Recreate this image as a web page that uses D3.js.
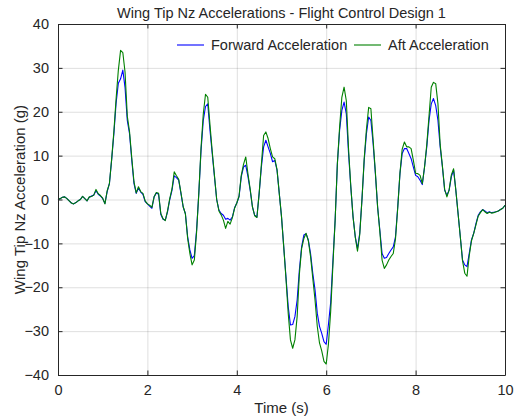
<!DOCTYPE html>
<html>
<head>
    <meta charset="utf-8" />
    <title>Wing Tip Nz</title>
    <script src="https://cdn.jsdelivr.net/npm/d3@7"></script>
    <style>
        body { margin: 0; background: #fff; }
        text { font-family: "Liberation Sans", Arial, Helvetica, sans-serif; fill: #262626; }
        .grid line { stroke: #262626; stroke-opacity: 0.15; }
        .grid path { display: none; }
    </style>
</head>
<body>
    <svg width="516" height="420" id="svgNz"></svg>

    <script>
        // sample step of the recorded signals (s)
        var dt = 0.05;

        // forward (blue) accelerometer, g, one value every dt from 0 to 10 s
        var fwdAccel = [
            0, 0.2, 0.5, 0.6, 0.2, -0.3, -0.8, -1.0, -0.7, -0.3,
            0.0, 0.7, 0.2, -0.3, 0.5, 0.8, 1.0, 2.0, 1.2, 0.8,
            0.2, -0.9, 1.8, 3.6, 9, 15, 22, 26.5, 27.5, 29.5,
            25.5, 18, 15, 9, 3.6, 1.4, 2.6, 1.7, 1.2, -0.5,
            -1.0, -1.5, -2.0, 0.6, 1.5, 1.2, -3.4, -4.5, -4.7, -2.8,
            0, 2.1, 5.4, 5.0, 4.4, 1.4, -1.7, -3.2, -8.5, -11.5,
            -13.4, -12.8, -7, 1.4, 11.2, 18, 21.2, 21.8, 15.8, 10.5,
            5.2, 0, -2.4, -3.2, -3.6, -4.5, -4.3, -4.7, -4.0, -1.9,
            -0.8, 0.6, 5.2, 7.4, 7.8, 5.2, 2.1, -1.7, -3.6, -4.0,
            1.4, 7.4, 12, 13.5, 12, 10.5, 8.6, 8.9, 6.7, 1.4,
            -3.9, -10.8, -17.6, -24.4, -28.6, -28.5, -26.7, -22.9, -16, -10.8,
            -8.1, -7.8, -9.2, -12.3, -16.8, -20.6, -25.9, -28.9, -30.5, -32.4,
            -33, -28.5, -23.5, -14, -4.7, 8.2, 15.8, 20.3, 22.2, 19.5,
            10.5, 2.9, -3.9, -8.5, -11.2, -7.7, 0, 8.9, 15, 18.8,
            18, 12.7, 5.9, -1.7, -7, -12.3, -13.4, -13.2, -12.3, -11.5,
            -10.8, -8.5, -1.7, 5.9, 10.5, 11.6, 11.6, 10.5, 9.3, 7.4,
            5.5, 5.2, 4.4, 3.4, 7.4, 12, 18, 21.8, 23, 21.4,
            18, 12, 7.4, 2.1, 1.0, 2.1, 5.2, 6.7, 2.1, -3.2,
            -8.5, -13.8, -14.9, -15.3, -12.3, -9.2, -7.7, -5.5, -3.6, -2.8,
            -2.3, -2.6, -3.0, -2.8, -3.0, -2.9, -2.8, -2.6, -2.3, -2.0,
            -1.3
        ];

        // aft (green) accelerometer, g, same sampling
        var aftAccel = [
            0, 0.2, 0.5, 0.6, 0.2, -0.3, -0.8, -1.0, -0.7, -0.3,
            0.0, 0.7, 0.2, -0.3, 0.6, 0.7, 1.0, 2.3, 1.3, 0.9,
            0.3, -1.0, 2.0, 3.6, 9.2, 15.5, 23, 29.5, 34, 33.5,
            29, 19, 15.5, 9.5, 4, 1.5, 2.9, 1.8, 1.4, -0.3,
            -1.0, -1.3, -1.8, 0.6, 1.6, 1.4, -3.2, -4.4, -4.8, -2.6,
            0.2, 2.4, 6.3, 5.4, 4.6, 1.6, -1.6, -3.3, -8.8, -12.3,
            -14.9, -13.8, -7.5, 1.4, 11.8, 19.5, 24, 23.3, 17, 11,
            5.5, 0, -2.6, -3.5, -4.7, -6.6, -5.0, -5.6, -4.2, -2.0,
            -0.8, 0.8, 5.5, 8, 9.7, 5.8, 2.3, -1.7, -3.7, -4.1,
            1.4, 8.0, 14.6, 15.4, 13.9, 11.6, 9.7, 9.3, 6.8, 1.4,
            -3.9, -10.8, -18, -25.9, -32, -33.9, -32, -26.7, -17, -11.2,
            -8.9, -7.7, -9.4, -13, -18, -22.9, -28.9, -32.7, -34.5, -36.9,
            -37.5, -33, -25.5, -15, -4.7, 8.2, 16.5, 23.3, 25.6, 22.5,
            11.5, 3.0, -3.9, -8.5, -11.8, -8.0, 0, 9.3, 16, 21,
            20.7, 13.5, 6.2, -1.7, -7.3, -13.8, -15.7, -14.9, -13.8, -13,
            -12.3, -9, -2, 6, 11.5, 13.1, 12.0, 12, 11.6, 8.9,
            6, 5.9, 5.5, 3.6, 7.4, 12.5, 19, 25.6, 26.7, 26.4,
            21.8, 12.5, 7.6, 2.3, 0.6, 2.2, 5.6, 7.0, 2.1, -3.2,
            -8.5, -14, -16.8, -17.5, -12.8, -9.4, -7.7, -5.8, -3.8, -3.0,
            -2.3, -2.8, -3.2, -2.9, -3.1, -3.0, -2.8, -2.6, -2.3, -2.0,
            -1.3
        ];

        var xTicks = [0, 2, 4, 6, 8, 10];
        var yTicks = [-40, -30, -20, -10, 0, 10, 20, 30, 40];
        var seriesNames = ["Forward Acceleration", "Aft Acceleration"];
        var seriesColors = ["#0000ff", "#008000"];

        //init the svg
        var svg = d3.select("#svgNz"),
            margin = {top: 24, right: 11, bottom: 45, left: 58},
            width = +svg.attr("width") - margin.left - margin.right,
            height = +svg.attr("height") - margin.top - margin.bottom;

        var x = d3.scaleLinear().domain([0, 10]).range([0, width]),
            y = d3.scaleLinear().domain([-40, 40]).range([height, 0]);

        var g = svg.append("g")
            .attr("transform", "translate(" + margin.left + "," + margin.top + ")");

        // grid
        g.append("g").attr("class", "grid")
            .attr("transform", "translate(0," + height + ")")
            .call(d3.axisBottom(x).tickValues(xTicks).tickSize(-height).tickFormat(""));
        g.append("g").attr("class", "grid")
            .call(d3.axisLeft(y).tickValues(yTicks).tickSize(-width).tickFormat(""));

        // lines
        var data = [fwdAccel, aftAccel];
        var line = d3.line()
            .x(function(d, i) { return x(i * dt); })
            .y(function(d) { return y(d); });

        g.selectAll(".series")
            .data(data)
            .enter().append("path")
            .attr("class", "series")
            .attr("fill", "none")
            .attr("stroke", function(d, i) { return seriesColors[i]; })
            .attr("stroke-width", 1.1)
            .attr("stroke-linejoin", "round")
            .attr("d", line);

        // axes, ticks pointing in, box on
        function styleAxis(sel) {
            sel.selectAll("path").attr("stroke", "#262626");
            sel.selectAll("line").attr("stroke", "#262626");
            sel.selectAll("text").attr("font-size", "14.5px").attr("fill", "#262626");
        }
        g.append("g")
            .attr("transform", "translate(0," + height + ")")
            .call(d3.axisBottom(x).tickValues(xTicks).tickSize(-4.5).tickSizeOuter(0).tickPadding(10))
            .call(styleAxis);
        g.append("g")
            .call(d3.axisLeft(y).tickValues(yTicks).tickSize(-4.5).tickSizeOuter(0).tickPadding(9))
            .call(styleAxis);
        g.append("g")
            .call(d3.axisTop(x).tickValues(xTicks).tickSize(-4.5).tickSizeOuter(0).tickFormat(""))
            .call(styleAxis);
        g.append("g")
            .attr("transform", "translate(" + width + ",0)")
            .call(d3.axisRight(y).tickValues(yTicks).tickSize(-4.5).tickSizeOuter(0).tickFormat(""))
            .call(styleAxis);
        g.selectAll(".domain").attr("stroke-width", 1);

        // titles
        svg.append("text")
            .attr("x", margin.left + width / 2).attr("y", 18)
            .attr("text-anchor", "middle").attr("font-size", "14.5px")
            .text("Wing Tip Nz Accelerations - Flight Control Design 1");
        svg.append("text")
            .attr("x", margin.left + width / 2).attr("y", 413)
            .attr("text-anchor", "middle").attr("font-size", "15px")
            .text("Time (s)");
        svg.append("text")
            .attr("transform", "translate(25," + (margin.top + height / 2) + ") rotate(-90)")
            .attr("text-anchor", "middle").attr("font-size", "15px")
            .text("Wing Tip Nz Acceleration (g)");

        // legend
        var legendX = [177, 354];
        var legend = svg.append("g").attr("transform", "translate(0,45)");
        seriesNames.forEach(function(name, i) {
            legend.append("line")
                .attr("x1", legendX[i]).attr("x2", legendX[i] + 27)
                .attr("y1", 0).attr("y2", 0)
                .attr("stroke", seriesColors[i]).attr("stroke-width", 1.1);
            legend.append("text")
                .attr("x", legendX[i] + 34).attr("y", 5)
                .attr("font-size", "14.5px")
                .text(name);
        });
    </script>
</body>
</html>
